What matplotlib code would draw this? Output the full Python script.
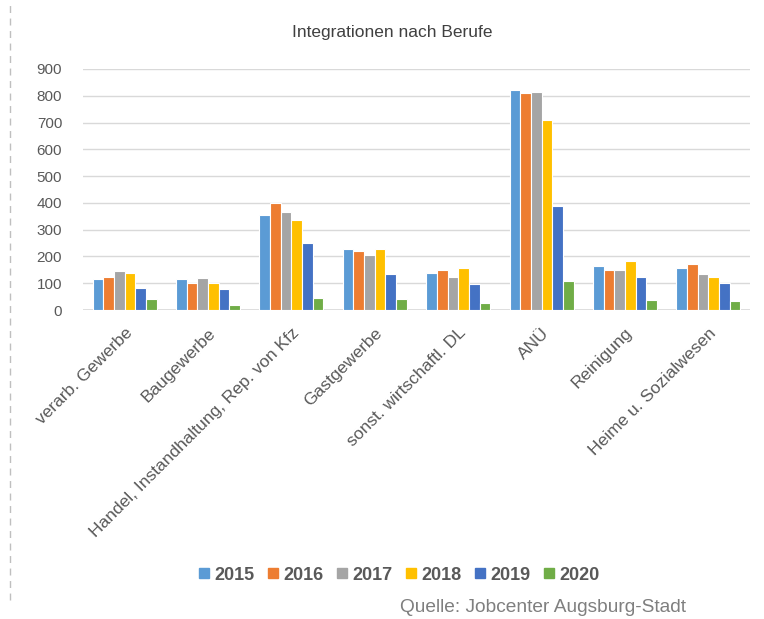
import matplotlib

matplotlib.use("Agg")
import matplotlib.pyplot as plt
import numpy as np
from matplotlib.lines import Line2D

plt.rcParams["font.family"] = ["Liberation Sans", "DejaVu Sans"]

categories = [
    "verarb. Gewerbe",
    "Baugewerbe",
    "Handel, Instandhaltung, Rep. von Kfz",
    "Gastgewerbe",
    "sonst. wirtschaftl. DL",
    "ANÜ",
    "Reinigung",
    "Heime u. Sozialwesen",
]
years = ["2015", "2016", "2017", "2018", "2019", "2020"]
v2015 = [114, 114, 356, 226, 138, 820, 164, 158]
v2016 = [125, 100, 399, 219, 151, 809, 151, 170]
v2017 = [145, 119, 367, 207, 125, 814, 151, 133]
v2018 = [138, 100, 337, 226, 156, 710, 182, 125]
v2019 = [83, 77, 250, 133, 96, 387, 125, 100]
v2020 = [40, 20, 46, 40, 26, 107, 38, 32]
series = [v2015, v2016, v2017, v2018, v2019, v2020]
colors = ["#5B9BD5", "#ED7D31", "#A5A5A5", "#FFC000", "#4472C4", "#70AD47"]

TEXT = "#595959"

fig = plt.figure(figsize=(7.64, 6.19), dpi=100)
ax = fig.add_axes([83 / 764, 1 - 310 / 619, 667 / 764, 241 / 619])

x = np.arange(len(categories))
bw = 0.128
for i, (vals, col, yr) in enumerate(zip(series, colors, years)):
    ax.bar(x + (i - 2.5) * bw, vals, width=bw, color=col, edgecolor="white",
           linewidth=0.8, label=yr, zorder=3)

ax.set_xlim(-0.5, len(categories) - 0.5)
ax.set_ylim(0, 900)
ax.set_yticks(range(0, 901, 100))
ax.yaxis.grid(True, color="#D9D9D9", lw=1.0, zorder=0)
ax.set_axisbelow(True)
for s in ax.spines.values():
    s.set_visible(False)
ax.axhline(0, color="#D9D9D9", lw=1.2, zorder=2)
ax.tick_params(axis="both", length=0, labelcolor=TEXT)
ax.tick_params(axis="y", pad=15, labelsize=11)
ax.set_xticks(x)
ax.set_xticklabels(categories, rotation=45, ha="right", rotation_mode="anchor")
ax.tick_params(axis="x", pad=11, labelsize=12.5)

fig.text(392 / 764, 1 - 33 / 619, "Integrationen nach Berufe", ha="center",
         va="center", fontsize=12.5, color="#404040")

handles = [Line2D([], [], marker="s", ls="", color=c, markersize=7) for c in colors]
fig.legend(handles, years, loc="center", bbox_to_anchor=(395 / 764, 1 - 575 / 619),
           ncol=6, frameon=False, handletextpad=-0.2, handlelength=1.5,
           columnspacing=0.3, labelcolor=TEXT, prop={"weight": "bold", "size": 13})

fig.text(400 / 764, 1 - 608 / 619, "Quelle: Jobcenter Augsburg-Stadt", ha="left",
         va="center", fontsize=13.8, color="#7F7F7F")

fig.add_artist(Line2D([10 / 764, 10 / 764], [1 - 600 / 619, 1.0],
                      transform=fig.transFigure, color="#BFBFBF", lw=1, ls=(0, (5, 4))))

fig.savefig("out.png", dpi=100)
